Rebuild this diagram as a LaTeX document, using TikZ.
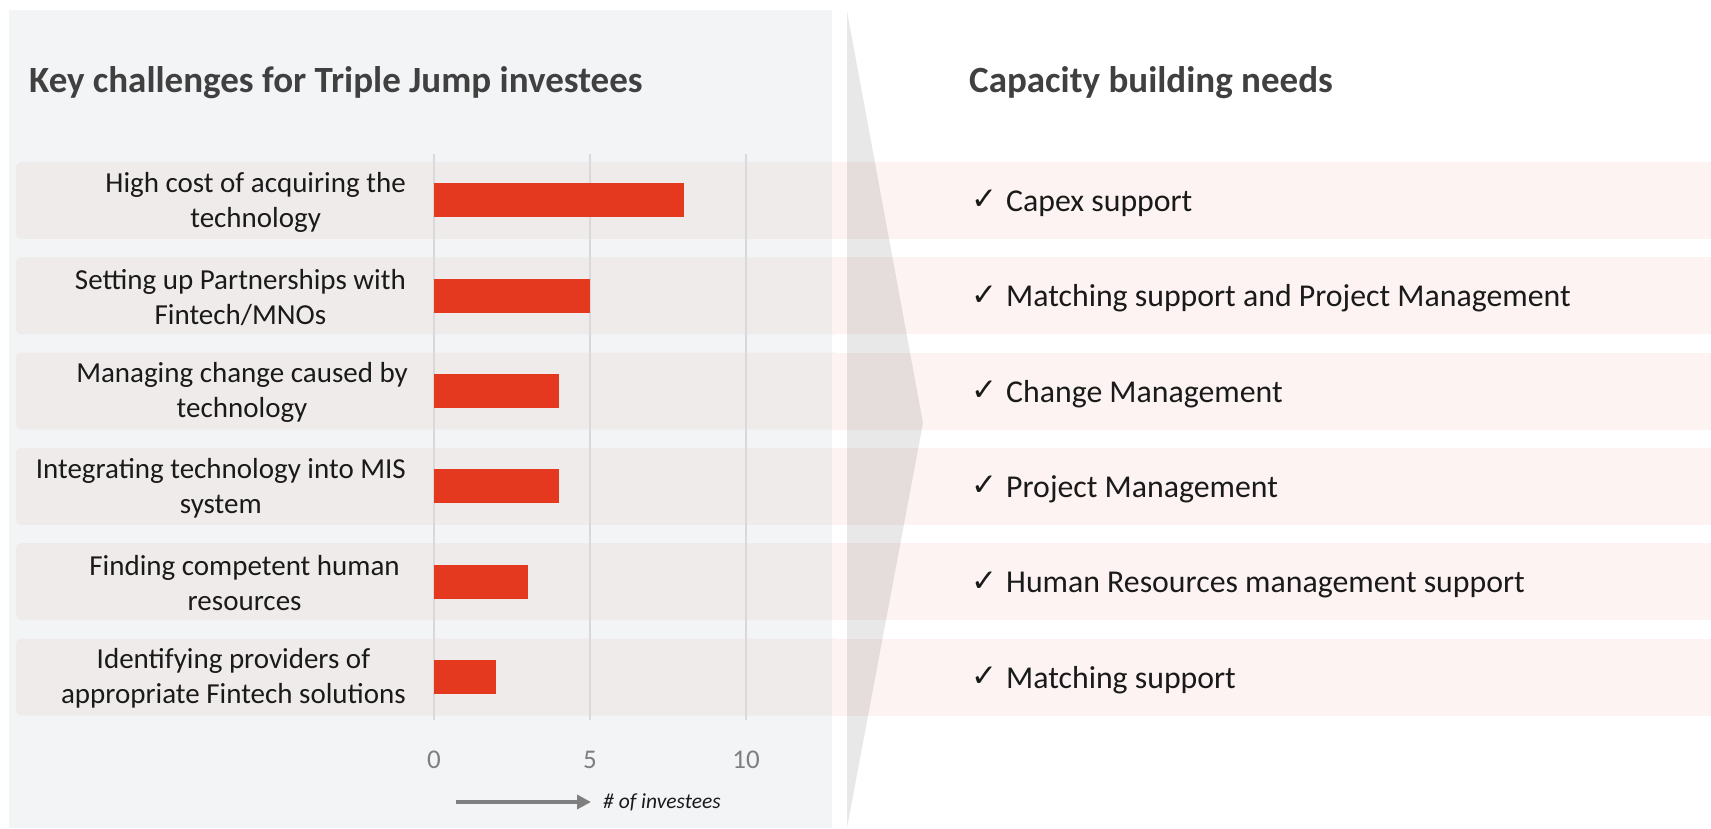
\documentclass[tikz,border=0pt]{standalone}
\usepackage{fontspec}
\setmainfont{Carlito}
\newfontfamily\chkfont{DejaVu Sans}
\usetikzlibrary{arrows.meta}
\definecolor{panelbg}{HTML}{F3F4F6}
\definecolor{bandL}{HTML}{F0EBEB}
\definecolor{bandR}{HTML}{FCF3F2}
\definecolor{barred}{HTML}{E5391F}
\definecolor{gridc}{HTML}{D9D9D9}
\definecolor{titlec}{HTML}{404040}
\definecolor{axisc}{HTML}{7F7F7F}
\definecolor{txtc}{HTML}{1A1A1A}
\tikzset{
  bandleft/.style={fill=bandL, rounded corners=5pt},
  bandright/.style={fill=bandR},
  barbox/.style={fill=barred},
  gridline/.style={draw=gridc, line width=1.3pt},
  lbl/.style={align=center, anchor=east, inner sep=0pt, font=\fontsize{29}{35}\selectfont, text=txtc},
  need/.style={anchor=base west, inner sep=0pt, font=\fontsize{31.8}{36}\selectfont, text=txtc},
  chk/.style={anchor=base west, inner sep=0pt, font=\chkfont\fontsize{31}{36}\selectfont, text=txtc},
  ttl/.style={anchor=base west, inner sep=0pt, font=\bfseries\fontsize{37}{42}\selectfont, text=titlec},
  tick/.style={anchor=base, inner sep=0pt, font=\fontsize{27}{30}\selectfont, text=axisc},
}
\begin{document}
\begin{tikzpicture}[x=1pt, y=-1pt]
\useasboundingbox (0,0) rectangle (1711,829);
\fill[white] (0,0) rectangle (1711,829);
% left panel
\fill[panelbg] (9,10) rectangle (832,828);
% bands
\foreach \i in {0,...,5} {
  \pgfmathsetmacro{\c}{200.5+95.3*\i}
  \fill[bandright] (832,\c-38.5) rectangle (1711,\c+38.5);
  \fill[bandleft] (16,\c-38.5) rectangle (840,\c+38.5);
  \fill[bandright] (832,\c-38.5) rectangle (847,\c+38.5);
}
% chevron
\fill[black, opacity=0.09] (847,11) -- (923,423) -- (847,828) -- cycle;
% grid
\foreach \v/\n in {0/g0,5/g5,10/g10} {
  \coordinate (\n top) at (434+31.2*\v,154);
  \coordinate (\n bot) at (434+31.2*\v,720);
  \draw[gridline] (\n top) -- (\n bot);
}
% bars
\foreach \i/\v in {0/8,1/5,2/4,3/4,4/3,5/2} {
  \pgfmathsetmacro{\c}{200.5+95.3*\i}
  \fill[barbox] (434,\c-17) rectangle (434+31.2*\v,\c+17);
}
% titles
\node[ttl] (t1) at (29,93) {Key challenges for Triple Jump investees};
\node[ttl] (t2) at (969,93) {Capacity building needs};
% labels
\node[lbl] (l1) at (406,202) {High cost of acquiring the\\technology};
\node[lbl] (l2) at (406,297.3) {Setting up Partnerships with\\Fintech/MNOs};
\node[lbl] (l3) at (408,392.6) {Managing change caused by\\technology};
\node[lbl] (l4) at (406,487.9) {Integrating technology into MIS\\system};
\node[lbl] (l5) at (400,583.2) {Finding competent human\\resources};
\node[lbl] (l6) at (406,678.5) {Identifying providers of\\appropriate Fintech solutions};
% needs
\foreach \i/\t in {0/Capex support,1/Matching support and Project Management,2/Change Management,3/Project Management,4/Human Resources management support,5/Matching support} {
  \pgfmathsetmacro{\c}{200.5+95.3*\i}
  \node[chk] (c\i) at (971,\c+9.5) {✓};
  \node[need] (n\i) at (1006,\c+11) {\t};
}
% axis labels
\node[tick] (x0) at (434,768) {0};
\node[tick] (x5) at (590,768) {5};
\node[tick] (x10) at (746,768) {10};
% axis arrow
\node[anchor=west, inner sep=0pt, font=\itshape\fontsize{21.5}{24}\selectfont, text=txtc] (inv) at (603,802) {\# of investees};
\coordinate (arrS) at (456,802);
\coordinate (arrE) at (591,802);
\draw[axisc, line width=3.5pt, -{Triangle[length=14pt,width=14pt]}] (arrS) -- (arrE);
\end{tikzpicture}
\end{document}
